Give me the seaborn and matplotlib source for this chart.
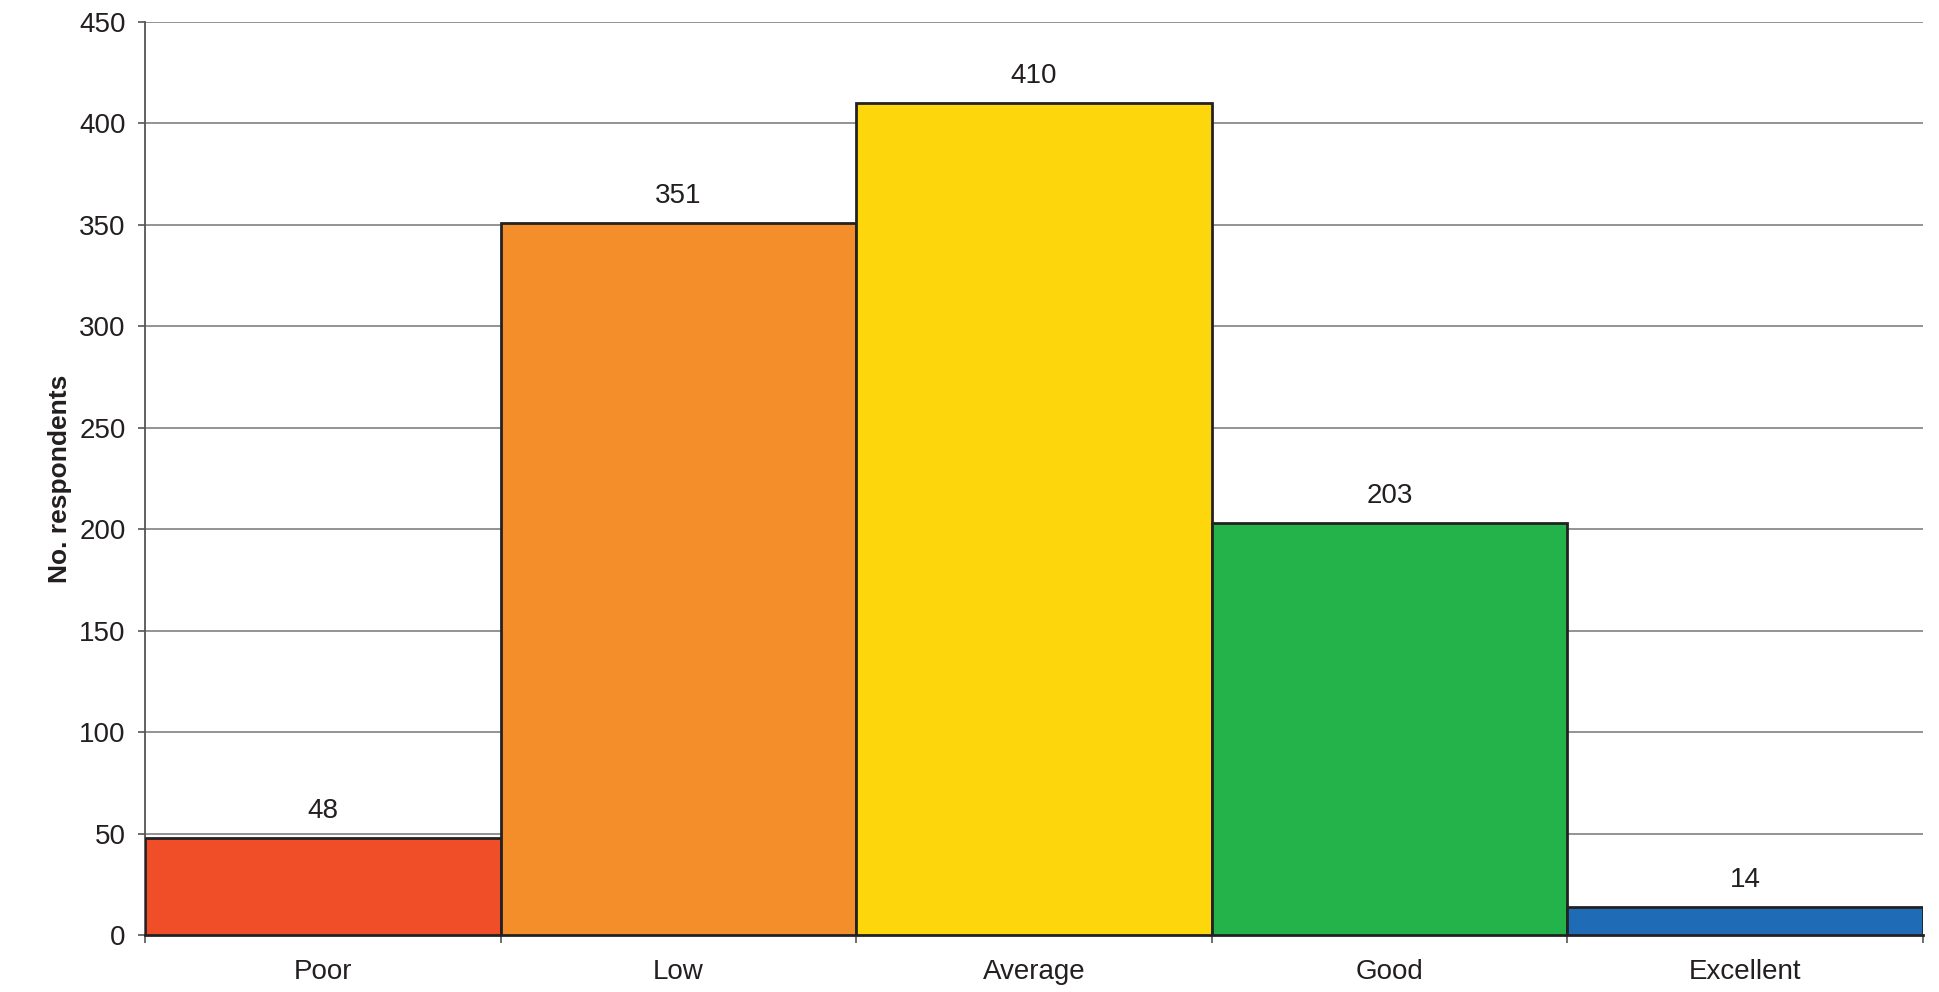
import matplotlib
matplotlib.use("Agg")
import matplotlib.pyplot as plt
import seaborn as sns
import pandas as pd
from matplotlib.ticker import FixedLocator

categories = ["Poor", "Low", "Average", "Good", "Excellent"]
respondents = [48, 351, 410, 203, 14]
colors = ["#F04E29", "#F48E2B", "#FDD70C", "#24B24B", "#1F6BB5"]
y_ticks = [0, 50, 100, 150, 200, 250, 300, 350, 400, 450]

df = pd.DataFrame({"category": categories, "value": respondents})

sns.set_theme(style="white")
plt.rcParams["font.family"] = ["Liberation Sans", "DejaVu Sans"]

fig = plt.figure(figsize=(19.39, 9.92), dpi=100)
ax = fig.add_axes([145 / 1939, 1 - 935 / 992, (1923 - 145) / 1939, (935 - 22) / 992])

sns.barplot(data=df, x="category", y="value", hue="category", palette=colors,
            order=categories, hue_order=categories, width=1.0, legend=False,
            saturation=1, edgecolor="#222222", linewidth=2, ax=ax, zorder=3)

ax.set_xlim(-0.5, len(categories) - 0.5)
ax.set_ylim(0, 450)
ax.set_yticks(y_ticks)
ax.set_yticklabels([str(v) for v in y_ticks], fontsize=20, color="#231f20")
ax.yaxis.grid(True, color="#8a8a8a", linewidth=1.3, zorder=0)
ax.set_axisbelow(True)

for c in ax.containers:
    ax.bar_label(c, fontsize=20, color="#231f20", padding=10)

ax.set_xlabel("")
ax.set_ylabel("No. respondents", fontsize=19, fontweight="bold", color="#231f20")
ax.yaxis.set_label_coords(-0.041, 0.5)
ax.tick_params(axis="x", which="major", length=0, labelsize=20, labelcolor="#231f20", pad=17)
ax.xaxis.set_minor_locator(FixedLocator([i - 0.5 for i in range(len(categories) + 1)]))
ax.tick_params(axis="x", which="minor", length=6, width=1.2, color="#555555", direction="out", bottom=True)
ax.tick_params(axis="y", which="major", length=5, width=1.2, color="#555555", direction="out", left=True, pad=9)

for s in ["top", "right"]:
    ax.spines[s].set_visible(False)
ax.spines["left"].set_color("#555555")
ax.spines["left"].set_linewidth(1.3)
ax.spines["bottom"].set_color("#222222")
ax.spines["bottom"].set_linewidth(2)

fig.savefig("out.png", dpi=100, facecolor="white")
